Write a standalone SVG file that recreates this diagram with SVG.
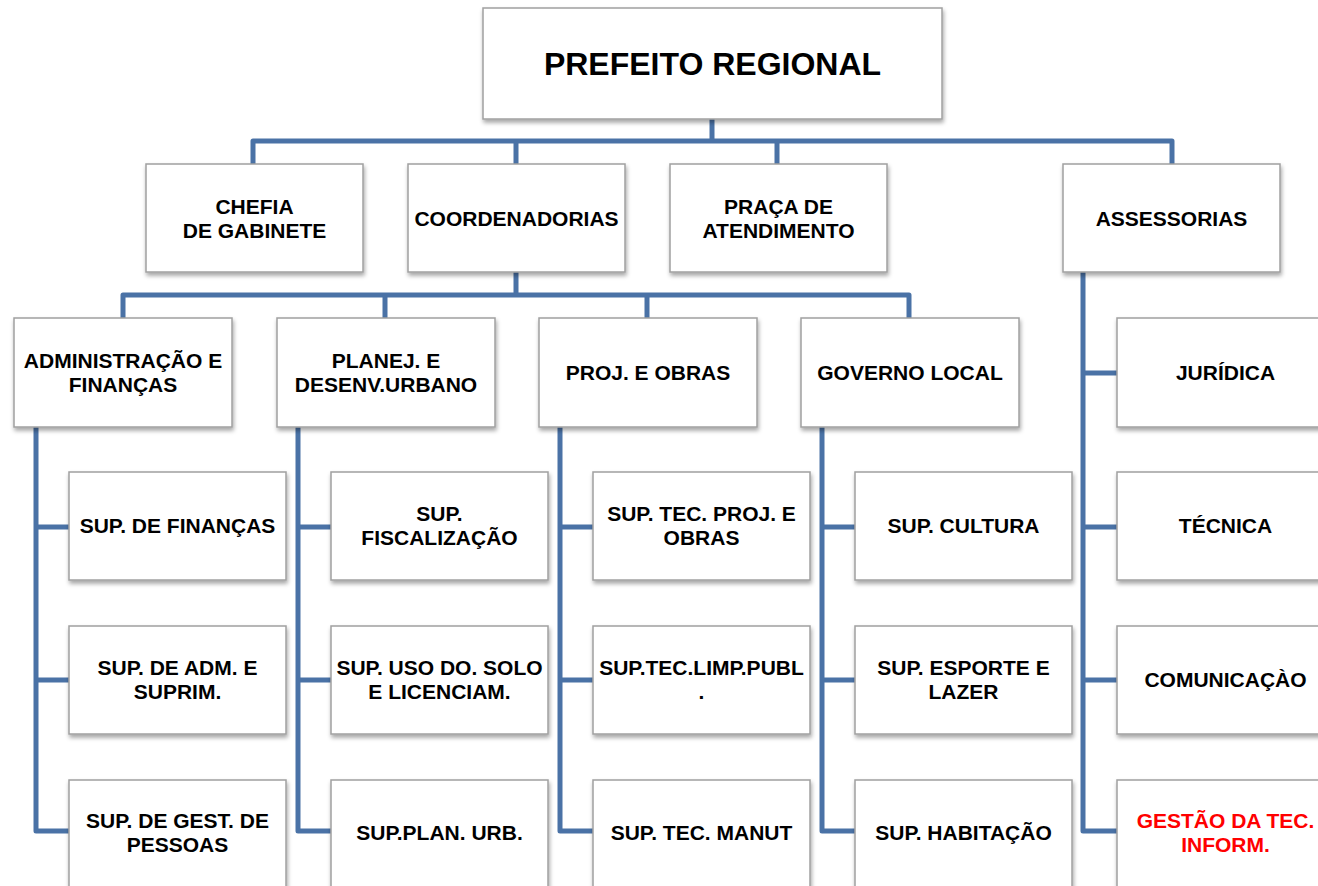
<svg xmlns="http://www.w3.org/2000/svg" width="1318" height="886" viewBox="0 0 1318 886">
<defs>
<filter id="sh" x="-10%" y="-10%" width="125%" height="130%">
<feDropShadow dx="1" dy="3" stdDeviation="2.2" flood-color="#000" flood-opacity="0.35"/>
</filter>
<style>
.box{fill:#fff;stroke:#a0a0a0;stroke-width:1.5;filter:url(#sh)}
.t{font-family:"Liberation Sans",Arial,Helvetica,sans-serif;font-weight:bold;font-size:21px;fill:#000;text-anchor:middle}
.big{font-size:32px}
.red{fill:#ff0000}
.c{fill:none;stroke:#4a72a6;stroke-width:5;stroke-linejoin:round;stroke-linecap:butt}
</style>
</defs>
<rect width="1318" height="886" fill="#fff"/>
<g id="connectors">
<path class="c" d="M712 119V141M253 164V141H1172V165M516 141V164M777 141V164"/>
<path class="c" d="M516 272V295M123 318V295H909V318M385 295V318M647 295V318"/>
<path class="c" d="M36 427V831H69M36 527H69M36 680H69"/>
<path class="c" d="M298 427V831H331M298 527H331M298 680H331"/>
<path class="c" d="M560 427V831H593M560 527H593M560 680H593"/>
<path class="c" d="M822 427V831H855M822 527H855M822 680H855"/>
<path class="c" d="M1083 272V831H1117M1083 373H1117M1083 527H1117M1083 680H1117"/>
</g>
<g id="prefeito"><rect class="box" x="483" y="8" width="459" height="111"/><text class="t big" x="712.5" y="75">PREFEITO REGIONAL</text></g>
<g id="chefia"><rect class="box" x="146" y="164" width="217" height="108"/><text class="t" x="254.5" y="214">CHEFIA</text><text class="t" x="254.5" y="238">DE GABINETE</text></g>
<g id="coordenadorias"><rect class="box" x="408" y="164" width="217" height="108"/><text class="t" x="516.5" y="226">COORDENADORIAS</text></g>
<g id="praca"><rect class="box" x="670" y="164" width="217" height="108"/><text class="t" x="778.5" y="214">PRAÇA DE</text><text class="t" x="778.5" y="238">ATENDIMENTO</text></g>
<g id="assessorias"><rect class="box" x="1063" y="164" width="217" height="108"/><text class="t" x="1171.5" y="226">ASSESSORIAS</text></g>
<g id="admin"><rect class="box" x="14" y="318" width="218" height="109"/><text class="t" x="123" y="368">ADMINISTRAÇÃO E</text><text class="t" x="123" y="392">FINANÇAS</text></g>
<g id="planej"><rect class="box" x="277" y="318" width="218" height="109"/><text class="t" x="386" y="368">PLANEJ. E</text><text class="t" x="386" y="392">DESENV.URBANO</text></g>
<g id="projobras"><rect class="box" x="539" y="318" width="218" height="109"/><text class="t" x="648" y="380">PROJ. E OBRAS</text></g>
<g id="governo"><rect class="box" x="801" y="318" width="218" height="109"/><text class="t" x="910" y="380">GOVERNO LOCAL</text></g>
<g id="juridica"><rect class="box" x="1117" y="318" width="217" height="109"/><text class="t" x="1225.5" y="380">JURÍDICA</text></g>
<g id="sup-financas"><rect class="box" x="69" y="472" width="217" height="108"/><text class="t" x="177.5" y="533">SUP. DE FINANÇAS</text></g>
<g id="sup-fiscalizacao"><rect class="box" x="331" y="472" width="217" height="108"/><text class="t" x="439.5" y="521">SUP.</text><text class="t" x="439.5" y="545">FISCALIZAÇÃO</text></g>
<g id="sup-tec-proj"><rect class="box" x="593" y="472" width="217" height="108"/><text class="t" x="701.5" y="521">SUP. TEC. PROJ. E</text><text class="t" x="701.5" y="545">OBRAS</text></g>
<g id="sup-cultura"><rect class="box" x="855" y="472" width="217" height="108"/><text class="t" x="963.5" y="533">SUP. CULTURA</text></g>
<g id="tecnica"><rect class="box" x="1117" y="472" width="217" height="108"/><text class="t" x="1225.5" y="533">TÉCNICA</text></g>
<g id="sup-adm"><rect class="box" x="69" y="626" width="217" height="108"/><text class="t" x="177.5" y="675">SUP. DE ADM. E</text><text class="t" x="177.5" y="699">SUPRIM.</text></g>
<g id="sup-uso-solo"><rect class="box" x="331" y="626" width="217" height="108"/><text class="t" x="439.5" y="675">SUP. USO DO. SOLO</text><text class="t" x="439.5" y="699">E LICENCIAM.</text></g>
<g id="sup-limp"><rect class="box" x="593" y="626" width="217" height="108"/><text class="t" x="701.5" y="675">SUP.TEC.LIMP.PUBL</text><text class="t" x="701.5" y="699">.</text></g>
<g id="sup-esporte"><rect class="box" x="855" y="626" width="217" height="108"/><text class="t" x="963.5" y="675">SUP. ESPORTE E</text><text class="t" x="963.5" y="699">LAZER</text></g>
<g id="comunicacao"><rect class="box" x="1117" y="626" width="217" height="108"/><text class="t" x="1225.5" y="687">COMUNICAÇÀO</text></g>
<g id="sup-gest-pessoas"><rect class="box" x="69" y="780" width="217" height="108"/><text class="t" x="177.5" y="828">SUP. DE GEST. DE</text><text class="t" x="177.5" y="852">PESSOAS</text></g>
<g id="sup-plan-urb"><rect class="box" x="331" y="780" width="217" height="108"/><text class="t" x="439.5" y="840">SUP.PLAN. URB.</text></g>
<g id="sup-tec-manut"><rect class="box" x="593" y="780" width="217" height="108"/><text class="t" x="701.5" y="840">SUP. TEC. MANUT</text></g>
<g id="sup-habitacao"><rect class="box" x="855" y="780" width="217" height="108"/><text class="t" x="963.5" y="840">SUP. HABITAÇÃO</text></g>
<g id="gestao-tec"><rect class="box" x="1117" y="780" width="217" height="108"/><text class="t red" x="1225.5" y="828">GESTÃO DA TEC.</text><text class="t red" x="1225.5" y="852">INFORM.</text></g>
</svg>
